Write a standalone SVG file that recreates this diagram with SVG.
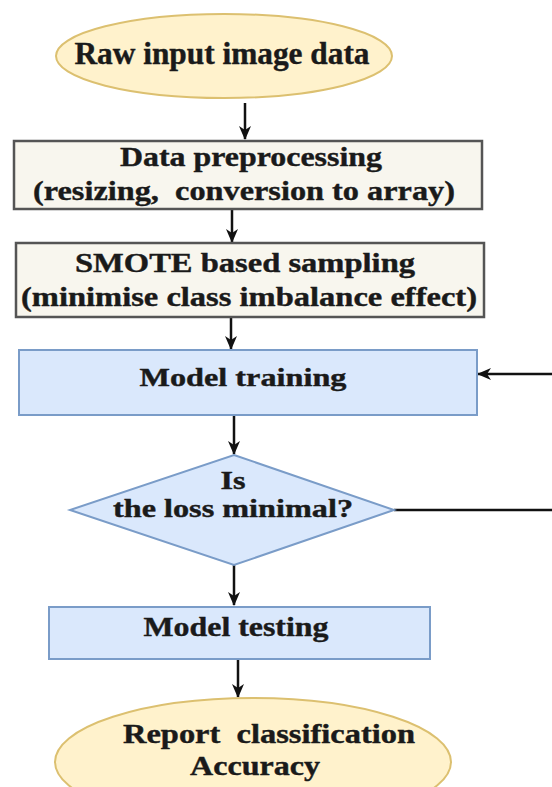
<svg xmlns="http://www.w3.org/2000/svg" width="552" height="787" viewBox="0 0 552 787">
<defs>
<marker id="ah" viewBox="0 0 14 12" refX="13" refY="6" markerWidth="14" markerHeight="12" markerUnits="userSpaceOnUse" orient="auto">
<path d="M0,0 L14,6 L0,12 L4,6 z" fill="#111"/>
</marker>
<style>
text{font-family:"Liberation Serif","Times New Roman",serif;font-weight:bold;fill:#1a1a1a;stroke:#1a1a1a;stroke-width:0.4;text-anchor:middle}
.term{fill:#fff2cc;stroke:#dcc070;stroke-width:2}
.proc{fill:#f8f6ee;stroke:#555;stroke-width:2.5}
.blue{fill:#dae8fc;stroke:#7a9cc8;stroke-width:2}
.conn{stroke:#111;stroke-width:2.5;fill:none}
</style>
</defs>
<rect width="552" height="787" fill="#fff"/>
<g id="connectors">
<line class="conn" x1="245" y1="103" x2="245" y2="139" marker-end="url(#ah)"/>
<line class="conn" x1="232" y1="209" x2="232" y2="242" marker-end="url(#ah)"/>
<line class="conn" x1="231" y1="317" x2="231" y2="349" marker-end="url(#ah)"/>
<line class="conn" x1="552" y1="374" x2="478" y2="374" marker-end="url(#ah)"/>
<line class="conn" x1="234" y1="415" x2="234" y2="454" marker-end="url(#ah)"/>
<line class="conn" x1="394" y1="510" x2="552" y2="510"/>
<line class="conn" x1="234" y1="565" x2="234" y2="605" marker-end="url(#ah)"/>
<line class="conn" x1="238" y1="659" x2="238" y2="697" marker-end="url(#ah)"/>
</g>
<g id="raw-input">
<ellipse class="term" cx="224" cy="56" rx="168" ry="42"/>
<text x="222" y="64" font-size="31" textLength="295" lengthAdjust="spacingAndGlyphs">Raw input image data</text>
</g>
<g id="preprocessing">
<rect class="proc" x="14" y="141" width="468" height="68"/>
<text x="251" y="166" font-size="28" textLength="262" lengthAdjust="spacingAndGlyphs">Data preprocessing</text>
<text x="244" y="200" font-size="28" textLength="422" lengthAdjust="spacingAndGlyphs" xml:space="preserve">(resizing,  conversion to array)</text>
</g>
<g id="smote">
<rect class="proc" x="16" y="243" width="468" height="74"/>
<text x="245" y="272" font-size="27" textLength="340" lengthAdjust="spacingAndGlyphs">SMOTE based sampling</text>
<text x="249" y="306" font-size="27" textLength="456" lengthAdjust="spacingAndGlyphs">(minimise class imbalance effect)</text>
</g>
<g id="model-training">
<rect class="blue" x="19" y="350" width="458" height="65"/>
<text x="243" y="386" font-size="25" textLength="207" lengthAdjust="spacingAndGlyphs">Model training</text>
</g>
<g id="loss-decision">
<polygon class="blue" points="234,455 394,510 234,565 70,510"/>
<text x="233" y="489" font-size="25" textLength="25" lengthAdjust="spacingAndGlyphs">Is</text>
<text x="233" y="517" font-size="25" textLength="240" lengthAdjust="spacingAndGlyphs">the loss minimal?</text>
</g>
<g id="model-testing">
<rect class="blue" x="49" y="607" width="381" height="52"/>
<text x="236" y="636" font-size="27" textLength="185" lengthAdjust="spacingAndGlyphs">Model testing</text>
</g>
<g id="report">
<ellipse class="term" cx="253" cy="762" rx="198" ry="64"/>
<text x="269" y="743" font-size="27" textLength="292" lengthAdjust="spacingAndGlyphs" xml:space="preserve">Report  classification</text>
<text x="255" y="775" font-size="27" textLength="130" lengthAdjust="spacingAndGlyphs">Accuracy</text>
</g>
</svg>
